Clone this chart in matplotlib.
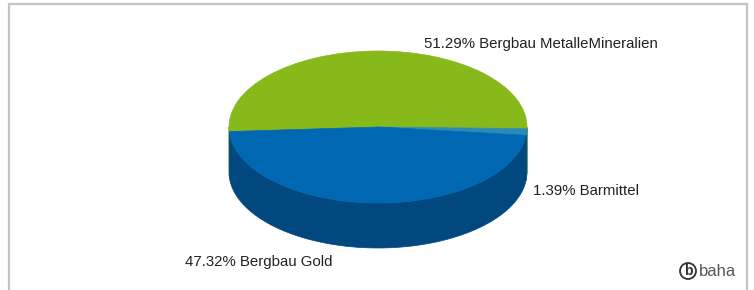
import numpy as np
import matplotlib.pyplot as plt
from matplotlib.patches import Wedge, Polygon, Rectangle, Circle
from matplotlib.transforms import Affine2D

# ===================== 数据 =====================
labels = ["Bergbau MetalleMineralien", "Barmittel", "Bergbau Gold"]
shares = [51.29, 1.39, 47.32]
top_colors = ["#88b91a", "#2a8cb6", "#0068b3"]
side_colors = ["#5f8410", "#1c6488", "#00487e"]

# ===================== 画布 =====================
W, H = 754, 290
fig = plt.figure(figsize=(W / 100, H / 100), dpi=100)
ax = fig.add_axes([0, 0, 1, 1])
ax.set_xlim(0, W)
ax.set_ylim(0, H)
ax.axis("off")
plt.rcParams["font.family"] = ["Liberation Sans", "DejaVu Sans"]

# 外框
ax.add_patch(Rectangle((8.5, -10), 738, H - 4 + 10, fill=False,
                       edgecolor="#c4c4c4", linewidth=1.6))

# ===================== 3D 饼图 =====================
cx, cy = 378, H - 127
rx, ry = 149, 76
depth = 45
start = 183.4  # 起始角度，顺时针排列

squash = Affine2D().scale(1, ry / rx).translate(cx, cy) + ax.transData

angles = []
a2 = start
for s in shares:
    a1 = a2 - s / 100 * 360
    angles.append((a1, a2))
    a2 = a1


def side_poly(t1, t2):
    t = np.radians(np.linspace(t1, t2, 80))
    xs = cx + rx * np.cos(t)
    ys = cy + ry * np.sin(t)
    pts = np.column_stack([np.r_[xs, xs[::-1]], np.r_[ys, ys[::-1] - depth]])
    return pts


# 侧面（只画前半部分 180°~360°）
for (a1, a2), c in zip(angles, side_colors):
    for k in (-360, 0, 360):
        lo = max(a1 + k, 180)
        hi = min(a2 + k, 360)
        if hi > lo:
            ax.add_patch(Polygon(side_poly(lo, hi), closed=True,
                                 facecolor=c, edgecolor=c, linewidth=0.5))

# 顶面
for (a1, a2), c in zip(angles, top_colors):
    ax.add_patch(Wedge((0, 0), rx, a1, a2, facecolor=c, edgecolor=c,
                       linewidth=0.5, transform=squash))

# ===================== 标签 =====================
txt = dict(fontsize=10.8, color="#222222", va="center", ha="left")
ax.text(424, H - 44, f"{shares[0]:.2f}% {labels[0]}", **txt)
ax.text(533, H - 191, f"{shares[1]:.2f}% {labels[1]}", **txt)
ax.text(185, H - 262, f"{shares[2]:.2f}% {labels[2]}", **txt)

# baha 标志
ax.add_patch(Circle((688, H - 271), 8, fill=False, edgecolor="#333333", linewidth=1.3))
ax.text(688, H - 271, "b", fontsize=10, fontweight="bold", color="#333333",
        ha="center", va="center")
ax.text(699, H - 271, "baha", fontsize=12, color="#555555", ha="left", va="center")

fig.savefig("out.png", dpi=100)
